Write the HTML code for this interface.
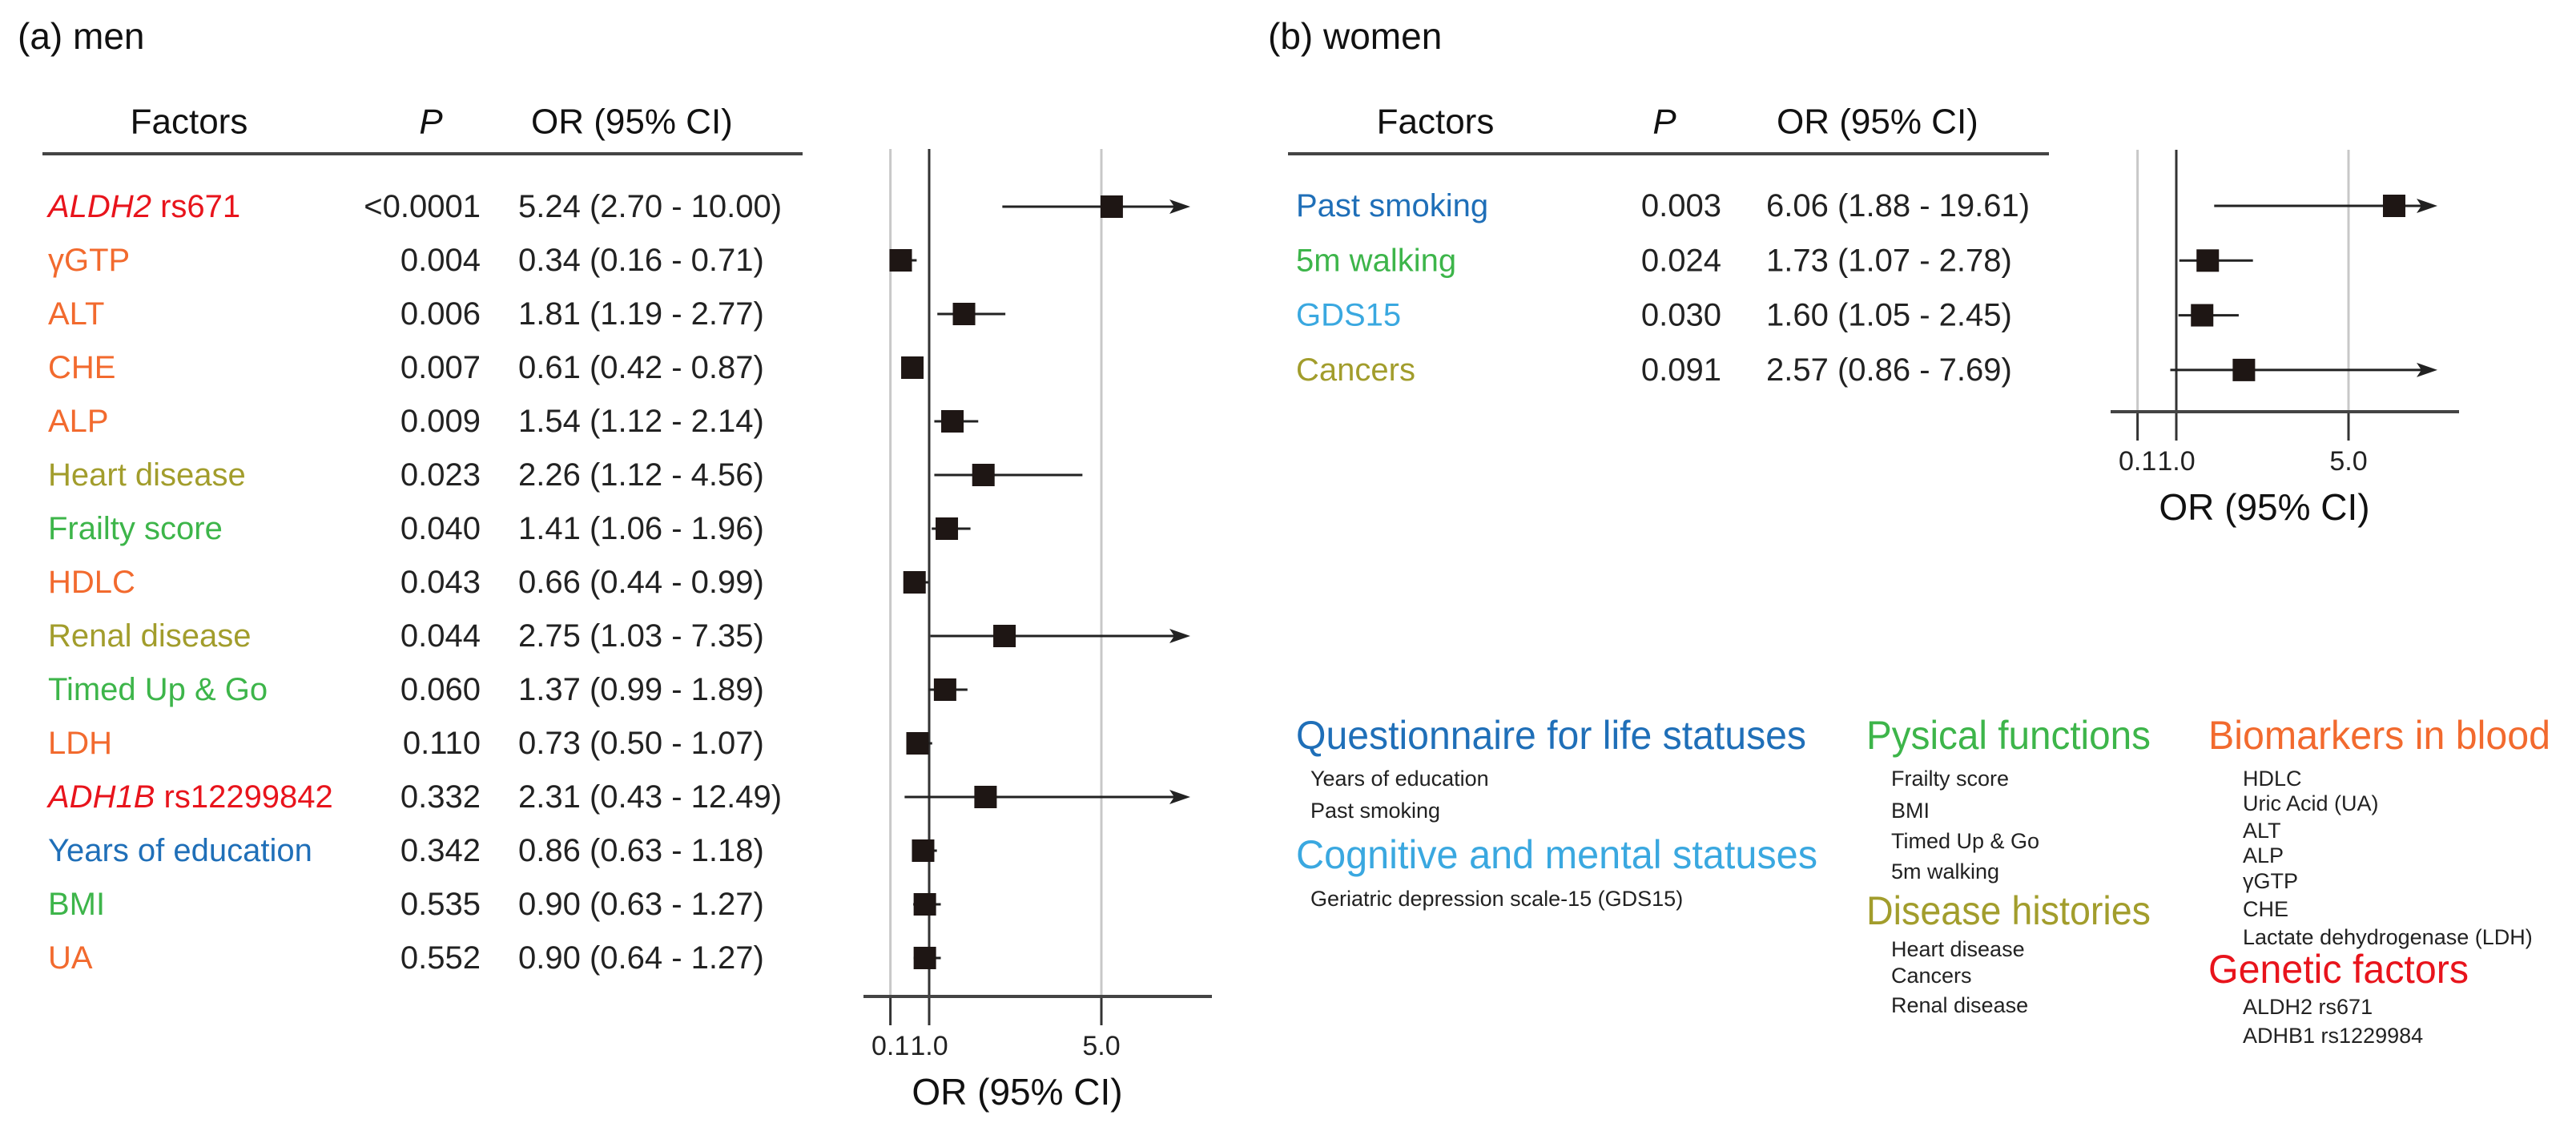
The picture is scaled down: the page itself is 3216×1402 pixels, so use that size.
<!DOCTYPE html>
<html><head><meta charset="utf-8"><title>Forest plots men women</title>
<style>
html,body{margin:0;padding:0;background:#fff;}
svg{display:block;font-family:"Liberation Sans",Arial,sans-serif;}
</style></head>
<body>
<svg id="fig" width="3216" height="1402" viewBox="0 0 3216 1402" xmlns="http://www.w3.org/2000/svg">
<rect x="0" y="0" width="3216" height="1402" fill="#fff"/>
</svg>
<script>
// ---- Men data ----
const menLabels = ["ALDH2|rs671","γGTP","ALT","CHE","ALP","Heart disease","Frailty score","HDLC","Renal disease","Timed Up & Go","LDH","ADH1B| rs12299842","Years of education","BMI","UA"];
const menColors = ["red","orange","orange","orange","orange","olive","green","orange","olive","green","orange","red","blue","green","orange"];
const menP = ["<0.0001","0.004","0.006","0.007","0.009","0.023","0.040","0.043","0.044","0.060","0.110","0.332","0.342","0.535","0.552"];
const menOR = [5.24,0.34,1.81,0.61,1.54,2.26,1.41,0.66,2.75,1.37,0.73,2.31,0.86,0.90,0.90];
const menLo = [2.70,0.16,1.19,0.42,1.12,1.12,1.06,0.44,1.03,0.99,0.50,0.43,0.63,0.63,0.64];
const menHi = [10.00,0.71,2.77,0.87,2.14,4.56,1.96,0.99,7.35,1.89,1.07,12.49,1.18,1.27,1.27];
const menCIText = ["5.24 (2.70 - 10.00)","0.34 (0.16 - 0.71)","1.81 (1.19 - 2.77)","0.61 (0.42 - 0.87)","1.54 (1.12 - 2.14)","2.26 (1.12 - 4.56)","1.41 (1.06 - 1.96)","0.66 (0.44 - 0.99)","2.75 (1.03 - 7.35)","1.37 (0.99 - 1.89)","0.73 (0.50 - 1.07)","2.31 (0.43 - 12.49)","0.86 (0.63 - 1.18)","0.90 (0.63 - 1.27)","0.90 (0.64 - 1.27)"];
// ---- Women data ----
const womenLabels = ["Past smoking","5m walking","GDS15","Cancers"];
const womenColors = ["blue","green","lightblue","olive"];
const womenP = ["0.003","0.024","0.030","0.091"];
const womenOR = [6.06,1.73,1.60,2.57];
const womenLo = [1.88,1.07,1.05,0.86];
const womenHi = [19.61,2.78,2.45,7.69];
const womenCIText = ["6.06 (1.88 - 19.61)","1.73 (1.07 - 2.78)","1.60 (1.05 - 2.45)","2.57 (0.86 - 7.69)"];
// ---- Axis ticks ----
const tickValues = [0.1,1.0,5.0];
const tickLabels = ["0.1","1.0","5.0"];
const axisMax = 7.0;

const COL = {red:"#e8141c",orange:"#f26a2e",olive:"#a29d2c",green:"#3db54a",blue:"#1f6fb8",lightblue:"#3aa8e0",black:"#111"};
const NS = "http://www.w3.org/2000/svg";
const svg = document.getElementById("fig");
function mk(tag, attrs, parent){
  const e = document.createElementNS(NS, tag);
  for (const k in attrs) e.setAttribute(k, attrs[k]);
  (parent||svg).appendChild(e);
  return e;
}
function txt(x,y,s,size,fill,anchor,parent){
  const t = mk("text",{x:x,y:y,"font-size":size,fill:fill||"#111","text-anchor":anchor||"start","dominant-baseline":"central"},parent);
  t.textContent = s;
  return t;
}

function panel(cfg){
  const g = mk("g",{});
  
  
  let t = txt(cfg.x0+22, 45, cfg.title, 46, "#111", "start", g);
  
  
  t = txt(cfg.factorsX, 152, "Factors", 44, "#111", "middle", g);
  
  
  t = txt(cfg.pX, 152, "P", 44, "#111", "middle", g);
  t.setAttribute('font-style','italic');
  
  
  t = txt(cfg.orHeadX, 152, "OR (95% CI)", 44, "#111", "start", g);
  
  
  let l = mk("line",{x1:cfg.ulX1,x2:cfg.ulX2,y1:192,y2:192,stroke:"#444","stroke-width":4},g);
  
  

  const xs = v => cfg.base + (v-1)*53.75;
  const xEnd = cfg.base + 326;
  // grid lines
  tickValues.forEach((v,i)=>{
    const gl = mk("line",{x1:xs(v),x2:xs(v),y1:cfg.plotTop,y2:cfg.axisY,stroke:v===1?"#333":"#c8c8c8","stroke-width":v===1?3:3},g);
    
    
    const tk = mk("line",{x1:xs(v),x2:xs(v),y1:cfg.axisY,y2:cfg.axisY+36,stroke:"#333","stroke-width":3},g);
    
    
    const tl = txt(xs(v), cfg.axisY+62, tickLabels[i], 34, "#222", "middle", g);
    
    
  });
  const ax = mk("line",{x1:cfg.base-82,x2:cfg.base+353,y1:cfg.axisY,y2:cfg.axisY,stroke:"#444","stroke-width":4},g);
  
  
  const at = txt(cfg.base+110, cfg.axisY+119, "OR (95% CI)", 46, "#111", "middle", g);
  
  

  cfg.labels.forEach((lab,i)=>{
    const y = cfg.rowY0 + i*cfg.rowH;
    const color = COL[cfg.colors[i]];
    const lt = mk("text",{x:cfg.labelX,y:y,"font-size":40,fill:color,"dominant-baseline":"central"},g);
    
    
    if (lab.indexOf("|")>=0){
      const parts = lab.split("|");
      const a = mk("tspan",{"font-style":"italic"},lt); a.textContent = parts[0];
      const b = mk("tspan",{},lt); b.textContent = " " + parts[1].trim();
    } else lt.textContent = lab;
    const pt = txt(cfg.pRight, y, cfg.p[i], 40, "#222", "end", g);
    
    
    const ot = txt(cfg.orX, y, cfg.ciText[i], 40, "#222", "start", g);
    
    
    // CI line
    const hiClipped = cfg.hi[i] > axisMax;
    const x1 = xs(cfg.lo[i]);
    const x2 = hiClipped ? xEnd : xs(cfg.hi[i]);
    const ci = mk("line",{x1:x1,x2:hiClipped?x2-20:x2,y1:y,y2:y,stroke:"#222","stroke-width":3},g);
    
    
    if (hiClipped){
      const ah = mk("polygon",{points:`${x2},${y} ${x2-26},${y-9} ${x2-20},${y} ${x2-26},${y+9}`,fill:"#222"},g);
      
      
    }
    const bx = mk("rect",{x:xs(cfg.or[i])-14,y:y-14,width:28,height:28,fill:"#1e1614"},g);
    
    
  });
}

panel({name:"panel-men",x0:0,title:"(a) men",factorsX:236,pX:538,orHeadX:663,ulX1:53,ulX2:1002,
  base:1160,plotTop:186,axisY:1244,rowY0:258,rowH:67,labelX:60,pRight:600,orX:647,
  labels:menLabels,colors:menColors,p:menP,or:menOR,lo:menLo,hi:menHi,ciText:menCIText});
panel({name:"panel-women",x0:1561,title:"(b) women",factorsX:1792,pX:2078,orHeadX:2218,ulX1:1608,ulX2:2558,
  base:2717,plotTop:187,axisY:514,rowY0:257,rowH:68.3,labelX:1618,pRight:2149,orX:2205,
  labels:womenLabels,colors:womenColors,p:womenP,or:womenOR,lo:womenLo,hi:womenHi,ciText:womenCIText});

// ---- Legend ----
const legHeads = [
  {t:"Questionnaire for life statuses",x:1618,y:918,w:637,c:"blue"},
  {t:"Cognitive and mental statuses",x:1618,y:1067,w:651,c:"lightblue"},
  {t:"Pysical functions",x:2330,y:918,w:355,c:"green"},
  {t:"Disease histories",x:2330,y:1137,w:355,c:"olive"},
  {t:"Biomarkers in blood",x:2757,y:918,w:427,c:"orange"},
  {t:"Genetic factors",x:2757,y:1210,w:325,c:"red"}
];
const legItems = [
  ["Years of education",1636,972],["Past smoking",1636,1012],["Geriatric depression scale-15 (GDS15)",1636,1122],
  ["Frailty score",2361,972],["BMI",2361,1012],["Timed Up & Go",2361,1050],["5m walking",2361,1088],
  ["Heart disease",2361,1185],["Cancers",2361,1218],["Renal disease",2361,1255],
  ["HDLC",2800,972],["Uric Acid (UA)",2800,1003],["ALT",2800,1037],["ALP",2800,1068],["γGTP",2800,1100],["CHE",2800,1135],
  ["Lactate dehydrogenase (LDH)",2800,1170],["ALDH2 rs671",2800,1257],["ADHB1 rs1229984",2800,1293]
];
const lg = mk("g",{});


legHeads.forEach(h=>{
  const t = txt(h.x,h.y,h.t,50,COL[h.c],"start",lg);
  t.setAttribute("textLength",h.w);
  t.setAttribute("lengthAdjust","spacingAndGlyphs");
  
  
});
legItems.forEach(it=>{
  const t = txt(it[1],it[2],it[0],27,"#222","start",lg);
  
  
});
</script>
</body></html>
